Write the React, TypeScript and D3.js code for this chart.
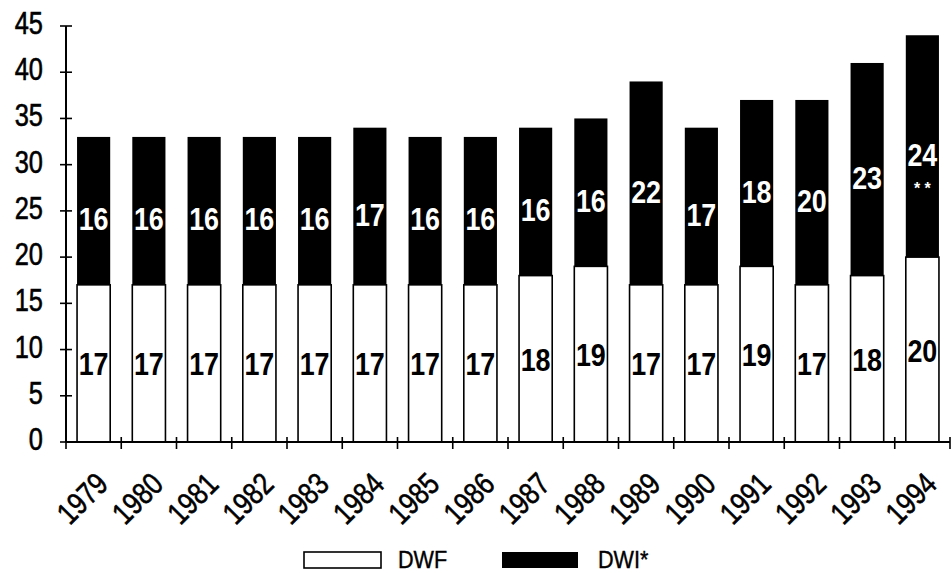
import React from "react";
import * as d3 from "d3";

// Years on the horizontal axis
const years = [
  "1979", "1980", "1981", "1982", "1983", "1984", "1985", "1986",
  "1987", "1988", "1989", "1990", "1991", "1992", "1993", "1994",
];
// DWF counts (lower, white segment)
const dwf = [17, 17, 17, 17, 17, 17, 17, 17, 18, 19, 17, 17, 19, 17, 18, 20];
// DWI counts (upper, black segment)
const dwi = [16, 16, 16, 16, 16, 17, 16, 16, 16, 16, 22, 17, 18, 20, 23, 24];
// Footnote markers shown under a DWI value
const dwiNotes = ["", "", "", "", "", "", "", "", "", "", "", "", "", "", "", "* *"];
// Y axis ticks
const yTicks = [0, 5, 10, 15, 20, 25, 30, 35, 40, 45];
const seriesNames = ["DWF", "DWI*"];

const W = 951;
const H = 573;
const FONT = "'Liberation Sans', Arial, Helvetica, sans-serif";
const NARROW = 0.82;

export default function App() {
  const x = d3
    .scaleBand<string>()
    .domain(years)
    .range([66, 950])
    .paddingInner(0.4)
    .paddingOuter(0.2);
  const y = d3.scaleLinear().domain([0, 45]).range([442, 26]);
  const step = x.step();
  const x0 = x.range()[0];
  const boundaries = d3.range(years.length + 1).map((i) => x0 + i * step);

  return (
    <svg
      width={W}
      height={H}
      style={{ position: "absolute", left: 0, top: 0, background: "#fff" }}
      fontFamily={FONT}
    >
      {/* bars */}
      {years.map((yr, i) => {
        const bx = x(yr)!;
        const bw = x.bandwidth();
        const total = dwf[i] + dwi[i];
        return (
          <g key={yr}>
            <rect
              x={bx}
              y={y(dwf[i])}
              width={bw}
              height={y(0) - y(dwf[i])}
              fill="#fff"
              stroke="#000"
              strokeWidth={1.6}
            />
            <rect
              x={bx}
              y={y(total)}
              width={bw}
              height={y(dwf[i]) - y(total)}
              fill="#000"
            />
          </g>
        );
      })}

      {/* value labels */}
      {years.map((yr, i) => {
        const cx = x(yr)! + x.bandwidth() / 2;
        const yLow = y(dwf[i] / 2);
        const yHigh = y(dwf[i] + dwi[i] / 2 - 0.8);
        return (
          <g key={"lab" + yr} fontWeight="bold" fontSize={32}>
            <text
              transform={`translate(${cx},${yLow + 12}) scale(0.84,1)`}
              textAnchor="middle"
              fill="#000"
            >
              {dwf[i]}
            </text>
            <text
              transform={`translate(${cx},${yHigh + 12}) scale(0.84,1)`}
              textAnchor="middle"
              fill="#fff"
            >
              {dwi[i]}
            </text>
            {dwiNotes[i] && (
              <text
                transform={`translate(${cx},${yHigh + 40})`}
                textAnchor="middle"
                fill="#fff"
                fontSize={16}
              >
                {dwiNotes[i]}
              </text>
            )}
          </g>
        );
      })}

      {/* y axis */}
      <line x1={66} x2={66} y1={y(45)} y2={y(0)} stroke="#000" strokeWidth={2} />
      {yTicks.map((t) => (
        <g key={"yt" + t}>
          <line x1={60} x2={72} y1={y(t)} y2={y(t)} stroke="#000" strokeWidth={1.6} />
          <text
            transform={`translate(43,${y(t) + 8}) scale(${NARROW},1)`}
            textAnchor="end"
            fontSize={31}
            fill="#000"
            stroke="#000"
            strokeWidth={0.6}
          >
            {t}
          </text>
        </g>
      ))}

      {/* x axis */}
      <line x1={66} x2={950} y1={y(0)} y2={y(0)} stroke="#000" strokeWidth={2} />
      {boundaries.map((bx, i) => (
        <line
          key={"xt" + i}
          x1={bx}
          x2={bx}
          y1={y(0) - 5}
          y2={y(0) + 7}
          stroke="#000"
          strokeWidth={1.6}
        />
      ))}
      {years.map((yr) => {
        const cx = x(yr)! + x.bandwidth() / 2;
        return (
          <text
            key={"xl" + yr}
            transform={`translate(${cx + 16},${y(0) + 44}) rotate(-45) scale(${NARROW},1)`}
            textAnchor="end"
            fontSize={31}
            fill="#000"
            stroke="#000"
            strokeWidth={0.6}
          >
            {yr}
          </text>
        );
      })}

      {/* legend */}
      <g fontSize={23}>
        <rect x={304} y={552} width={77} height={16} fill="#fff" stroke="#000" strokeWidth={1.6} />
        <text transform={`translate(398,568) scale(0.94,1)`} fill="#000" stroke="#000" strokeWidth={0.4}>
          {seriesNames[0]}
        </text>
        <rect x={502} y={552} width={76} height={16} fill="#000" />
        <text transform={`translate(598,568) scale(0.94,1)`} fill="#000" stroke="#000" strokeWidth={0.4}>
          {seriesNames[1]}
        </text>
      </g>
    </svg>
  );
}
